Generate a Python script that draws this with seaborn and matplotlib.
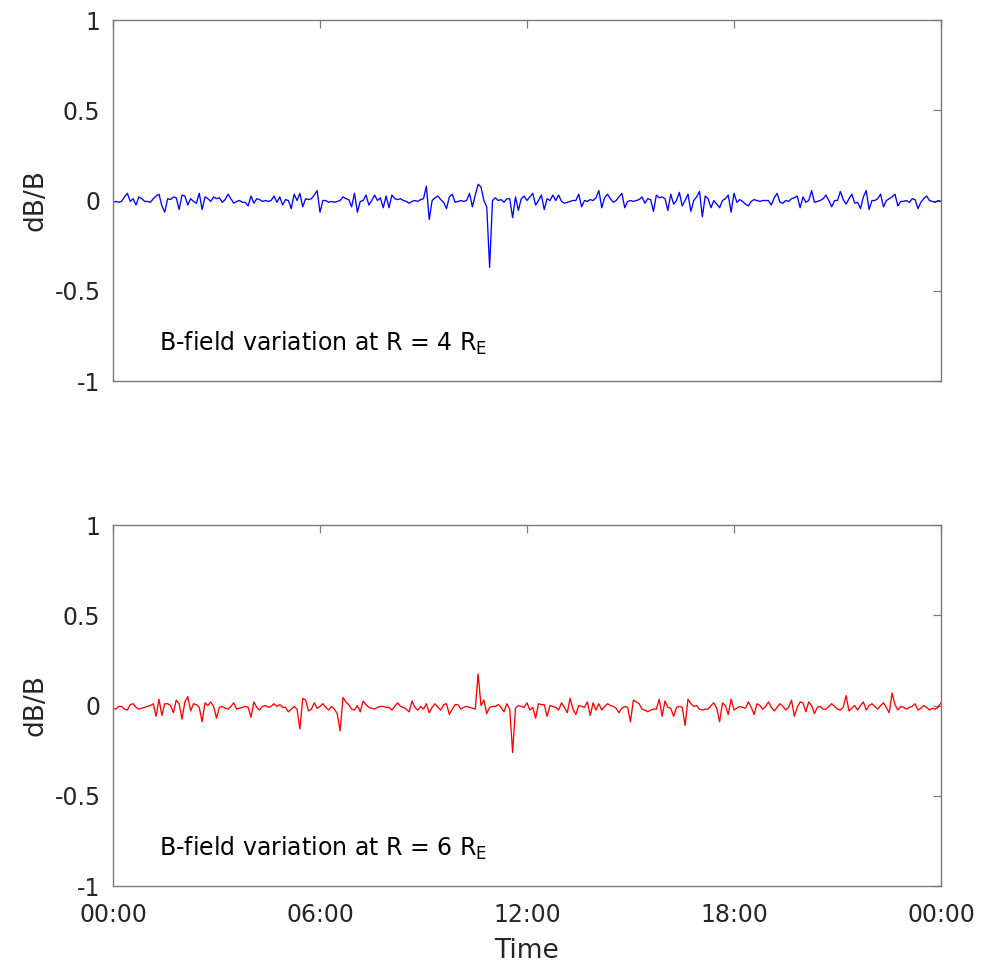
import numpy as np
import pandas as pd
import matplotlib
matplotlib.use('Agg')
import matplotlib.pyplot as plt
import matplotlib.dates as mdates
import seaborn as sns

db_r4 = [
    -0.01, -0.005, -0.01, -0.005, 0.02, 0.04, -0.005, 0.01, -0.025, 0.02, 0.01, -0.005,
    -0.005, -0.01, 0.01, 0.025, 0.035, -0.03, -0.065, 0.01, 0.005, 0.02, 0.015, -0.05,
    0.03, 0.025, -0.025, 0.01, -0.005, -0.015, 0.04, -0.05, 0.02, 0.01, -0.005, 0.02,
    0.01, 0.015, -0.01, 0.005, 0.035, 0.01, -0.015, -0.005, 0.0, -0.01, -0.01, -0.03,
    0.025, -0.015, 0.01, 0.005, -0.005, 0.0, -0.005, 0.0, 0.025, -0.01, 0.02, -0.025,
    0.005, 0.0, -0.045, 0.035, 0.0, 0.04, -0.035, 0.01, 0.005, 0.01, 0.03, 0.055,
    -0.065, 0.0, 0.0, -0.01, -0.005, -0.01, -0.005, 0.0, 0.02, 0.01, 0.005, -0.035,
    0.04, -0.065, -0.005, 0.0, 0.03, -0.025, 0.0, 0.03, 0.0, 0.015, -0.04, 0.025,
    -0.04, 0.03, 0.01, 0.005, 0.01, 0.0, -0.005, -0.015, -0.005, 0.0, -0.005, 0.005,
    0.01, 0.08, -0.105, 0.0, 0.015, 0.025, 0.005, -0.01, -0.045, 0.02, 0.035, -0.01,
    -0.005, 0.0, -0.005, 0.0, 0.04, -0.035, 0.03, 0.09, 0.075, 0.0, -0.035, -0.37,
    0.0, 0.015, 0.0, 0.005, -0.01, 0.01, 0.01, -0.095, 0.02, -0.055, 0.01, 0.025,
    0.0, 0.02, 0.04, -0.025, 0.0, 0.03, -0.05, 0.01, 0.0, 0.03, 0.0, 0.03,
    -0.005, -0.015, -0.01, -0.005, 0.0, 0.0, 0.035, -0.035, 0.0, -0.005, 0.005, 0.0,
    0.015, 0.055, -0.04, 0.015, 0.035, 0.01, -0.01, 0.0, 0.02, 0.04, -0.04, -0.005,
    0.0, -0.005, 0.0, 0.005, 0.02, -0.015, 0.01, 0.005, -0.06, 0.03, 0.015, 0.02,
    0.01, -0.055, 0.035, -0.02, 0.0, 0.045, -0.03, 0.0, 0.035, -0.06, 0.0, 0.02,
    0.05, -0.09, 0.025, 0.01, -0.04, 0.0, -0.02, -0.04, 0.0, 0.01, 0.03, -0.065,
    0.04, -0.01, 0.005, -0.005, -0.02, -0.03, -0.005, 0.005, 0.0, -0.005, 0.0, 0.0,
    0.0, -0.025, 0.015, 0.04, -0.01, -0.015, 0.0, -0.005, 0.01, 0.015, 0.025, -0.04,
    0.02, -0.01, 0.0, 0.055, -0.01, -0.005, 0.0, 0.01, 0.03, 0.0, -0.035, 0.0,
    0.0, 0.05, 0.005, -0.02, 0.01, 0.035, -0.015, -0.01, -0.045, 0.02, 0.055, -0.05,
    0.0, 0.0, 0.01, 0.035, -0.035, 0.0, 0.01, 0.02, 0.035, -0.03, -0.005, -0.005,
    0.0, -0.01, 0.01, 0.005, -0.045, -0.01, 0.01, 0.025, 0.0, -0.005, -0.01, 0.0,
    -0.005,
]

db_r6 = [
    -0.015, -0.02, -0.005, -0.005, -0.02, -0.025, 0.005, 0.01, -0.01, -0.02, -0.015, -0.01,
    -0.005, 0.0, 0.01, -0.06, 0.035, -0.055, 0.01, 0.01, 0.0, -0.04, 0.03, 0.01,
    -0.075, 0.02, 0.05, -0.03, 0.01, 0.005, -0.01, -0.09, 0.015, 0.0, 0.02, -0.005,
    -0.07, -0.01, -0.005, -0.015, -0.02, -0.005, 0.015, -0.02, -0.015, -0.01, -0.005, -0.01,
    -0.065, 0.02, -0.01, -0.025, -0.005, 0.0, -0.01, -0.005, 0.01, -0.005, 0.005, -0.01,
    -0.01, -0.035, -0.02, -0.005, -0.02, -0.13, 0.04, 0.03, -0.03, -0.02, 0.015, -0.015,
    -0.005, 0.01, -0.01, -0.025, -0.005, -0.02, -0.045, -0.14, 0.045, 0.02, 0.005, -0.02,
    -0.025, 0.0, -0.035, 0.025, 0.005, -0.01, -0.015, -0.02, -0.01, -0.005, -0.005, -0.01,
    -0.01, -0.025, -0.005, 0.015, -0.005, -0.01, -0.02, -0.035, 0.025, -0.01, -0.025, -0.005,
    -0.02, 0.01, -0.04, -0.01, 0.01, -0.01, -0.025, 0.005, 0.01, -0.05, -0.02, 0.005,
    0.005, -0.02, -0.01, -0.005, -0.01, -0.015, -0.02, 0.175, 0.0, 0.03, -0.045, -0.01,
    -0.005, -0.005, 0.005, -0.01, -0.035, 0.01, -0.02, -0.26, -0.015, 0.0, -0.005, -0.01,
    0.015, -0.025, -0.01, -0.07, 0.01, 0.005, 0.005, -0.06, 0.0, -0.005, -0.01, -0.025,
    0.015, -0.01, -0.04, 0.04, -0.02, -0.05, 0.0, -0.005, -0.01, 0.02, -0.055, 0.015,
    -0.025, 0.01, -0.025, -0.005, 0.01, 0.0, -0.005, -0.015, -0.04, -0.015, -0.005, -0.01,
    -0.09, 0.03, 0.02, 0.01, -0.02, -0.025, -0.035, -0.025, -0.02, -0.02, 0.035, -0.06,
    0.025, -0.01, -0.015, -0.06, -0.01, -0.005, -0.01, -0.11, 0.035, 0.01, -0.005, 0.0,
    -0.02, -0.025, -0.02, -0.02, 0.0, 0.015, -0.015, -0.09, 0.015, 0.0, -0.05, 0.035,
    -0.025, -0.015, -0.005, -0.01, -0.015, 0.02, -0.01, -0.05, 0.01, 0.0, -0.02, -0.005,
    0.02, -0.01, -0.03, -0.01, 0.01, -0.005, -0.025, -0.01, 0.03, -0.06, -0.01, 0.02,
    0.015, -0.035, 0.02, 0.0, -0.045, -0.01, -0.005, -0.02, -0.02, -0.005, 0.01, -0.005,
    -0.02, -0.025, -0.01, 0.055, -0.03, -0.015, 0.0, -0.025, 0.0, 0.02, -0.025, 0.0,
    0.01, -0.005, -0.02, 0.0, 0.015, -0.01, -0.04, 0.07, 0.005, -0.025, -0.005, -0.01,
    -0.02, -0.01, -0.005, 0.01, -0.025, -0.015, 0.0, -0.01, -0.025, -0.015, -0.02, -0.01,
    0.015,
]

y_ticks = [-1, -0.5, 0, 0.5, 1]
y_tick_labels = ['-1', '-0.5', '0', '0.5', '1']
panel_labels = [r'B-field variation at R = 4 R$_{\rm E}$',
                r'B-field variation at R = 6 R$_{\rm E}$']
line_colors = ['blue', 'red']

t0 = pd.Timestamp('2000-01-01 00:00')
times = pd.date_range(t0, periods=len(db_r4), freq='5min')
df = pd.DataFrame({'time': times, 'r4': db_r4, 'r6': db_r6})

sns.set_theme(style='white')
plt.rcParams['font.family'] = ['DejaVu Sans']
plt.rcParams['mathtext.fontset'] = 'dejavusans'

fig = plt.figure(figsize=(9.81, 9.71), dpi=100)
ax_top = fig.add_axes([0.1152, 0.6076, 0.8440, 0.3718])
ax_bot = fig.add_axes([0.1152, 0.0875, 0.8440, 0.3718])

edge = '#7a7a7a'
txt = '#262626'
for ax, col, color, label in zip([ax_top, ax_bot], ['r4', 'r6'], line_colors, panel_labels):
    sns.lineplot(data=df, x='time', y=col, ax=ax, color=color, linewidth=0.95,
                 estimator=None)
    ax.set_xlim(t0, t0 + pd.Timedelta(days=1))
    ax.set_ylim(-1, 1)
    ax.set_yticks(y_ticks)
    ax.set_yticklabels(y_tick_labels)
    ax.xaxis.set_major_locator(mdates.HourLocator(interval=6))
    ax.xaxis.set_major_formatter(mdates.DateFormatter('%H:%M'))
    for s in ax.spines.values():
        s.set_visible(True)
        s.set_color(edge)
        s.set_linewidth(1.0)
    ax.tick_params(direction='in', length=6, width=0.9, color=edge,
                   top=True, right=True, labelsize=17, labelcolor=txt)
    ax.tick_params(axis='y', pad=9)
    ax.tick_params(axis='x', pad=12)
    ax.set_ylabel('dB/B', fontsize=19, color=txt, labelpad=4)
    ax.set_xlabel('')
    ax.text(t0 + pd.Timedelta(hours=1.33), -0.83, label, fontsize=17,
            color='black', va='baseline', ha='left')

ax_top.tick_params(axis='x', labelbottom=False)
ax_bot.set_xlabel('Time', fontsize=19, color=txt, labelpad=8)

fig.savefig('out.png', dpi=100)
